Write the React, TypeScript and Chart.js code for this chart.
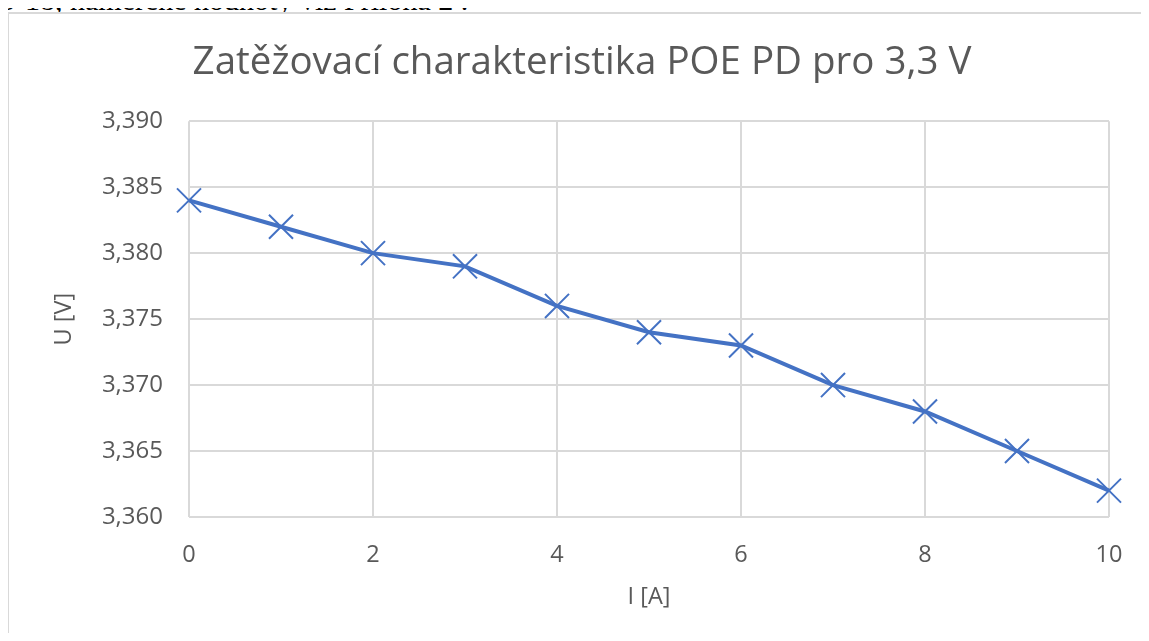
import React, { useEffect, useRef } from "react";
import { Chart, registerables } from "chart.js";

Chart.register(...registerables);

const currents = [0, 1, 2, 3, 4, 5, 6, 7, 8, 9, 10];
const voltages = [3.384, 3.382, 3.38, 3.379, 3.376, 3.374, 3.373, 3.37, 3.368, 3.365, 3.362];
const titleText = "Zatěžovací charakteristika POE PD pro 3,3 V";
const xTitle = "I [A]";
const yTitle = "U [V]";
const headerText = "3-18, naměřené hodnoty viz Příloha 2 .";

const FONT = "'Open Sans', sans-serif";
const TEXT = "#595959";

export default function App() {
  const ref = useRef<HTMLCanvasElement>(null);
  useEffect(() => {
    if (!ref.current) return;
    const chart = new Chart(ref.current, {
      type: "scatter",
      data: {
        datasets: [
          {
            data: currents.map((x, i) => ({ x, y: voltages[i] })),
            showLine: true,
            borderColor: "#4472C4",
            backgroundColor: "#4472C4",
            borderWidth: 4,
            pointStyle: "crossRot",
            pointRadius: 17,
            pointBorderWidth: 2,
            pointBorderColor: "#4472C4",
            clip: false as any,
          },
        ],
      },
      options: {
        animation: false,
        responsive: false,
        layout: { padding: 0 },
        plugins: {
          legend: { display: false },
          tooltip: { enabled: false },
          title: {
            display: true,
            text: titleText,
            color: TEXT,
            font: { family: FONT, size: 38.5, weight: "normal", lineHeight: 1.2 },
            padding: { top: 26, bottom: 35 },
          },
        },
        scales: {
          x: {
            type: "linear",
            min: 0,
            max: 10,
            ticks: {
              stepSize: 2,
              color: TEXT,
              padding: 24,
              font: { family: FONT, size: 23.5 },
            },
            grid: { color: "#d9d9d9", lineWidth: 2, drawTicks: false },
            border: { display: false },
            title: {
              display: true,
              text: xTitle,
              color: TEXT,
              font: { family: FONT, size: 23.5, lineHeight: 1.2 },
              padding: { top: 0, bottom: 30 },
            },
            afterFit: (s: any) => {
              s.height = 124;
            },
          },
          y: {
            type: "linear",
            min: 3.36,
            max: 3.39,
            ticks: {
              stepSize: 0.005,
              color: TEXT,
              padding: 26,
              font: { family: FONT, size: 24 },
              callback: (v: any) => Number(v).toFixed(3).replace(".", ","),
            },
            grid: { color: "#d9d9d9", lineWidth: 2, drawTicks: false },
            border: { display: false },
            title: {
              display: true,
              text: yTitle,
              color: TEXT,
              font: { family: FONT, size: 23.5, lineHeight: 1.2 },
              padding: { top: 41, bottom: 0 },
            },
            afterFit: (s: any) => {
              s.width = 180;
            },
          },
          yRight: {
            type: "linear",
            position: "right",
            min: 3.36,
            max: 3.39,
            display: true,
            ticks: { display: false },
            grid: { display: false, drawOnChartArea: false, drawTicks: false },
            border: { display: false },
            afterFit: (s: any) => {
              s.width = 46;
            },
          },
        },
      },
    });
    return () => chart.destroy();
  }, []);

  return (
    <div
      style={{
        position: "relative",
        margin: -8,
        width: 1149,
        height: 641,
        overflow: "hidden",
        background: "#fff",
      }}
    >
      <div
        style={{
          position: "absolute",
          left: 0,
          top: -17,
          fontFamily: "'Liberation Serif', 'Times New Roman', serif",
          fontSize: 30,
          color: "#000",
          whiteSpace: "nowrap",
          lineHeight: "34px",
        }}
      >
        {headerText}
      </div>
      <div
        style={{
          position: "absolute",
          left: 7,
          top: 12,
          width: 1160,
          height: 660,
          border: "2px solid #d9d9d9",
          boxSizing: "border-box",
          background: "#fff",
        }}
      />
      <canvas
        ref={ref}
        width={1146}
        height={627}
        style={{ position: "absolute", left: 9, top: 14, width: 1146, height: 627 }}
      />
    </div>
  );
}
